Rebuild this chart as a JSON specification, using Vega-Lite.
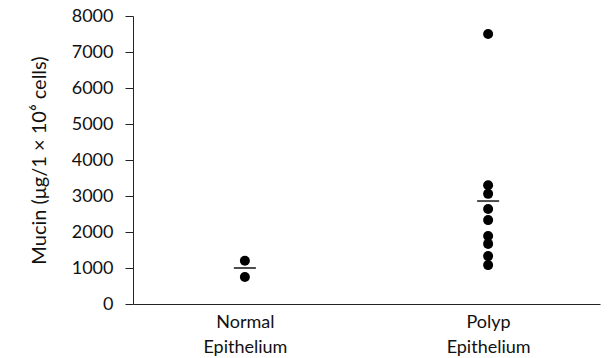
{
  "$schema": "https://vega.github.io/schema/vega-lite/v6.json",
  "width": 467,
  "height": 288,
  "autosize": {"type": "none"},
  "padding": {"left": 133, "top": 16, "right": 8, "bottom": 54},
  "background": "white",
  "config": {"view": {"stroke": null}, "font": "Lato"},
  "datasets": {
    "points": [
      {"group": "Normal Epithelium", "mucin": 1200},
      {"group": "Normal Epithelium", "mucin": 750},
      {"group": "Polyp Epithelium", "mucin": 7500},
      {"group": "Polyp Epithelium", "mucin": 3300},
      {"group": "Polyp Epithelium", "mucin": 3060},
      {"group": "Polyp Epithelium", "mucin": 2640},
      {"group": "Polyp Epithelium", "mucin": 2330},
      {"group": "Polyp Epithelium", "mucin": 1890},
      {"group": "Polyp Epithelium", "mucin": 1670},
      {"group": "Polyp Epithelium", "mucin": 1330},
      {"group": "Polyp Epithelium", "mucin": 1080}
    ],
    "means": [
      {"group": "Normal Epithelium", "mucin": 1000},
      {"group": "Polyp Epithelium", "mucin": 2860}
    ]
  },
  "encoding": {
    "x": {
      "field": "group", "type": "nominal",
      "scale": {"type": "point", "padding": 0.46, "domain": ["Normal Epithelium", "Polyp Epithelium"]},
      "axis": {
        "title": null, "labelAngle": 0, "ticks": false,
        "labelExpr": "split(datum.label, ' ')",
        "labelFontSize": 18, "labelColor": "#111", "labelPadding": 9,
        "labelLineHeight": 25, "domainColor": "#222", "domainWidth": 1.2
      }
    },
    "y": {
      "field": "mucin", "type": "quantitative",
      "scale": {"domain": [0, 8000], "nice": false},
      "axis": {
        "title": "Mucin (μg/1 × 10⁶ cells)", "titleFontSize": 20, "titleFontWeight": "normal",
        "titleColor": "#111", "titlePadding": 22,
        "values": [0, 1000, 2000, 3000, 4000, 5000, 6000, 7000, 8000],
        "format": "d", "labelFontSize": 18, "labelColor": "#111", "labelPadding": 12,
        "tickSize": 8, "tickColor": "#222", "domainColor": "#222", "grid": false
      }
    }
  },
  "layer": [
    {
      "data": {"name": "points"},
      "mark": {"type": "circle", "size": 100, "color": "black", "opacity": 1}
    },
    {
      "data": {"name": "means"},
      "mark": {"type": "tick", "size": 22, "thickness": 2, "color": "black", "orient": "horizontal"}
    }
  ]
}
